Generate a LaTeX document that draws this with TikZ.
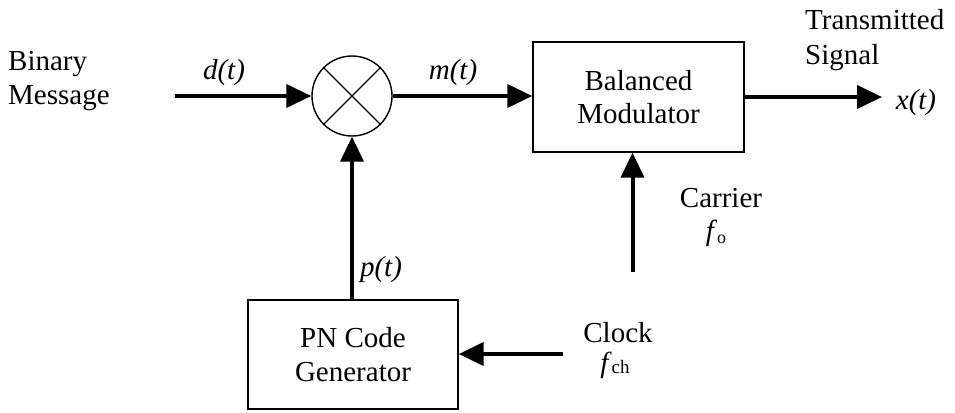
\documentclass[tikz,border=0pt]{standalone}
\usepackage{fontspec}
\setmainfont{Liberation Serif}
\usetikzlibrary{arrows.meta}
\tikzset{
  lbl/.style={inner sep=0pt, font=\fontsize{29pt}{33pt}\selectfont},
  sig/.style={lbl, font=\fontsize{29pt}{33pt}\selectfont\itshape},
  block/.style={draw, line width=1.4pt, inner sep=0pt, align=center,
                font=\fontsize{29pt}{34pt}\selectfont},
  flow/.style={line width=4pt, -{Triangle[length=25pt,width=23pt]}},
}
\begin{document}
\begin{tikzpicture}[x=1pt,y=-1pt]
\useasboundingbox (0,0) rectangle (955,412);

% blocks
\node[circle, draw, line width=1.4pt, minimum size=80pt, inner sep=0pt] (mix) at (352,96) {};
\draw[line width=1.4pt] (mix.45) -- (mix.225) (mix.135) -- (mix.315);
\node[block, minimum width=211pt, minimum height=110pt] (bm) at (638.5,97) {Balanced\\[-1pt]Modulator};
\node[block, minimum width=210pt, minimum height=109pt] (pn) at (353,354.5) {PN Code\\Generator};

% free ends of the connectors
\coordinate (din) at (175,96);
\coordinate (xout) at (882,97);
\coordinate (car) at (632.5,272);
\coordinate (clk) at (563,354);

% connectors
\draw[flow] (din) -- (mix.west);
\draw[flow] (mix.east) -- (bm.west |- mix.east);
\draw[flow] (bm.east |- xout) -- (xout);
\draw[flow] (car) -- (car |- bm.south);
\draw[flow] (pn.north -| mix.south) -- (mix.south);
\draw[flow] (clk) -- (pn.east |- clk);

% labels
\node[lbl, anchor=west, align=left, font=\fontsize{29pt}{34pt}\selectfont] (msg) at (8,81) {Binary\\Message};
\node[sig, anchor=base] (dt) at (224,79) {d(t)};
\node[sig, anchor=base] (mt) at (453,79) {m(t)};
\node[lbl, anchor=west, align=left, font=\fontsize{29pt}{35pt}\selectfont] (ts) at (805,40) {Transmitted\\Signal};
\node[sig, anchor=base] (xt) at (916,109) {x(t)};
\node[sig, anchor=base] (pt) at (381,276) {p(t)};
\node[lbl, anchor=base] (carl) at (721,207) {Carrier};
\node[lbl, anchor=base] (fo) at (716,240) {\textit{f}\raisebox{-3pt}{\fontsize{18pt}{18pt}\selectfont o}};
\node[lbl, anchor=base] (clkl) at (618,342) {Clock};
\node[lbl, anchor=base] (fch) at (615,372) {\textit{f}\raisebox{-1pt}{\fontsize{19pt}{19pt}\selectfont ch}};
\end{tikzpicture}
\end{document}
